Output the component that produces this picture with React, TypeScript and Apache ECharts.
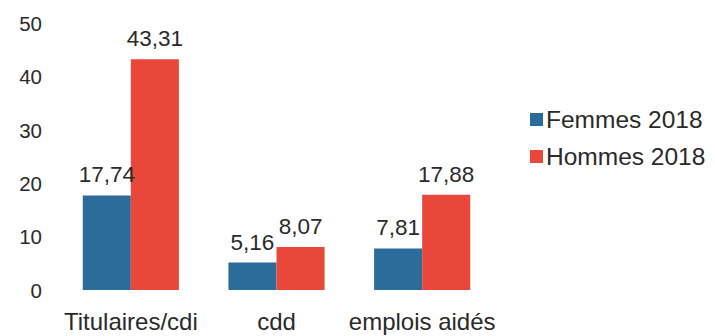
import React, { useEffect, useRef } from "react";
import * as echarts from "echarts";

const categories = ["Titulaires/cdi", "cdd", "emplois aidés"];
const femmes2018 = [17.74, 5.16, 7.81];
const hommes2018 = [43.31, 8.07, 17.88];
const seriesNames = ["Femmes 2018", "Hommes 2018"];
const yTicks = { min: 0, max: 50, interval: 10 };

const FONT = "'Liberation Sans', Arial, sans-serif";
const fmt = (p: any) => String(p.value).replace(".", ",");

export default function App() {
  const ref = useRef<HTMLDivElement>(null);
  useEffect(() => {
    if (!ref.current) return;
    const chart = echarts.init(ref.current, undefined, { renderer: "svg" });
    const label = {
      show: true,
      position: "top" as const,
      distance: 9,
      formatter: fmt,
      fontSize: 22.5,
      color: "#2a2a2a",
      fontFamily: FONT,
    };
    chart.setOption({
      animation: false,
      backgroundColor: "#ffffff",
      textStyle: { fontFamily: FONT },
      grid: { left: 58, right: 220, top: 23.6, bottom: 46, containLabel: false },
      legend: {
        orient: "vertical",
        left: 525,
        top: 102,
        itemWidth: 13,
        itemHeight: 13,
        itemGap: 12,
        icon: "rect",
        textStyle: { fontSize: 24.5, color: "#2a2a2a", fontFamily: FONT, padding: [0, 0, 0, -2] },
        data: seriesNames,
      },
      xAxis: {
        type: "category",
        data: categories,
        axisLine: { show: false },
        axisTick: { show: false },
        axisLabel: { interval: 0, fontSize: 24, color: "#2a2a2a", margin: 19, fontFamily: FONT },
      },
      yAxis: {
        type: "value",
        min: yTicks.min,
        max: yTicks.max,
        interval: yTicks.interval,
        splitLine: { show: false },
        axisLine: { show: false },
        axisTick: { show: false },
        axisLabel: { fontSize: 20.5, color: "#2a2a2a", margin: 16, fontFamily: FONT },
      },
      series: [
        {
          name: seriesNames[0],
          type: "bar",
          data: femmes2018,
          barGap: "0%",
          barCategoryGap: "34%",
          itemStyle: { color: "#2c6c9a" },
          label,
        },
        {
          name: seriesNames[1],
          type: "bar",
          data: hommes2018,
          barGap: "0%",
          barCategoryGap: "34%",
          itemStyle: { color: "#e9473a" },
          label,
        },
      ],
    });
    return () => chart.dispose();
  }, []);
  return (
    <div
      ref={ref}
      style={{ position: "absolute", left: 0, top: 0, width: 715, height: 336 }}
    />
  );
}
